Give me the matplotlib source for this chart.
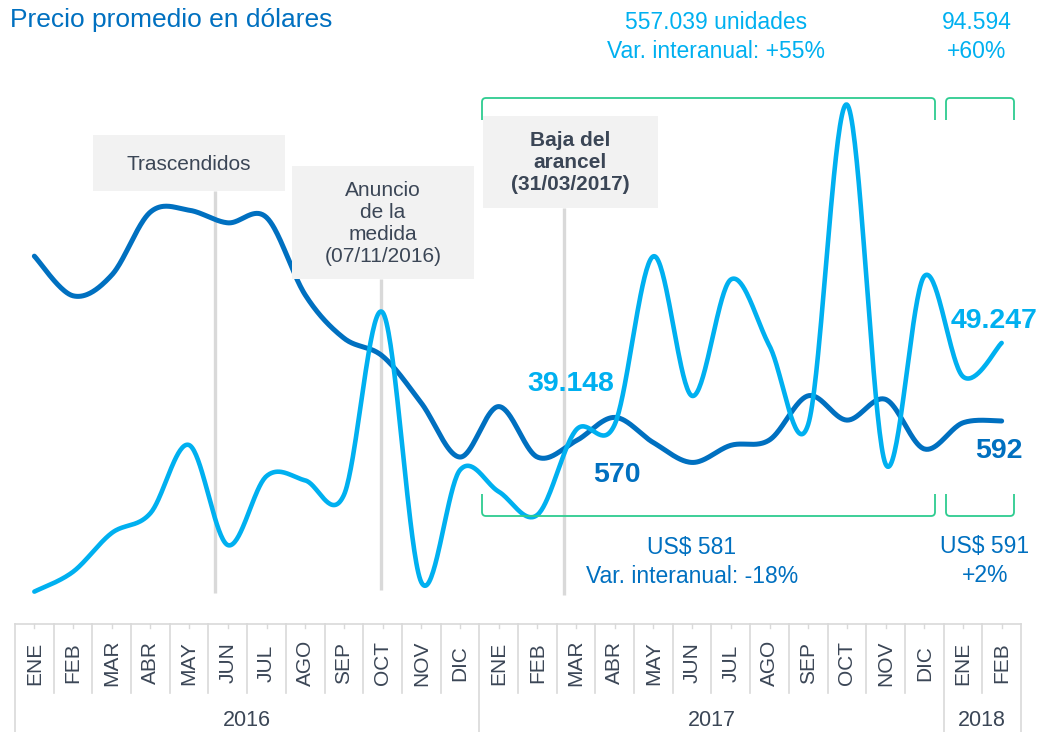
import numpy as np
import matplotlib
matplotlib.use("Agg")
import matplotlib.pyplot as plt
from matplotlib.transforms import blended_transform_factory
from matplotlib.patches import Rectangle
from matplotlib.path import Path
from matplotlib.patches import PathPatch

plt.rcParams['font.family'] = ['Liberation Sans', 'DejaVu Sans']

# ---------------- data ----------------
months = ["ENE", "FEB", "MAR", "ABR", "MAY", "JUN", "JUL", "AGO", "SEP", "OCT", "NOV", "DIC",
          "ENE", "FEB", "MAR", "ABR", "MAY", "JUN", "JUL", "AGO", "SEP", "OCT", "NOV", "DIC",
          "ENE", "FEB"]
years = ["2016", "2017", "2018"]
year_spans = [(0, 11), (12, 23), (24, 25)]

# average price in USD (dark blue)
price = [775, 731, 754, 824, 826, 812, 818, 732, 684, 664, 612, 552,
         608, 552, 570, 596, 568, 546, 565, 571, 620, 593, 616, 561,
         590, 592]
# units (light blue)
units = [20400, 22700, 27200, 29500, 37400, 25800, 33800, 33300, 31600, 52800, 21500, 34500,
         32000, 29300, 39148, 39800, 59300, 43100, 56600, 48900, 39800, 76900, 35200, 56991,
         45347, 49247]

events = ["Trascendidos", "Anuncio\nde la\nmedida\n(07/11/2016)", "Baja del\narancel\n(31/03/2017)"]
event_pos = [4.67, 8.96, 13.69]

C_DARK = "#0070C0"
C_LIGHT = "#00B0F0"
C_GREEN = "#2DCC90"
C_TEXT = "#3B4656"
C_GRID = "#D9D9D9"
C_BOX = "#F2F2F2"

W, H = 1040, 732


def smooth(xv, yv, n=40):
    pts = np.column_stack([np.asarray(xv, float), np.asarray(yv, float)])
    m = len(pts)
    out = []
    for i in range(m - 1):
        p0 = pts[i - 1] if i > 0 else pts[i]
        p1 = pts[i]
        p2 = pts[i + 1]
        p3 = pts[i + 2] if i + 2 < m else pts[i + 1]
        b1 = p1 + (p2 - p0) / 6.0
        b2 = p2 - (p3 - p1) / 6.0
        t = np.linspace(0, 1, n)[:, None]
        seg = ((1 - t) ** 3) * p1 + 3 * ((1 - t) ** 2) * t * b1 + 3 * (1 - t) * t ** 2 * b2 + t ** 3 * p2
        out.append(seg if i == 0 else seg[1:])
    s = np.vstack(out)
    return s[:, 0], s[:, 1]


fig = plt.figure(figsize=(W / 100, H / 100), dpi=100)

# plot area: x pixels 15..1021, y pixels 95..600
ax = fig.add_axes([15 / W, (H - 600) / H, (1021 - 15) / W, (600 - 95) / H])
ax2 = ax.twinx()
ov = fig.add_axes([0, 0, 1, 1])
ov.set_xlim(0, W)
ov.set_ylim(H, 0)
ov.set_axis_off()
ov.patch.set_alpha(0)
ov.set_zorder(5)

x = np.arange(len(months))
ax.set_xlim(-0.5, len(months) - 0.5)
ax.set_ylim(393.3, 953.9)
ax2.set_ylim(19428, 78008)
for a in (ax, ax2):
    a.set_xticks([])
    a.set_yticks([])
    for sp in a.spines.values():
        sp.set_visible(False)
ax.patch.set_alpha(0)

bt = blended_transform_factory(ax.transData, ov.transData)

# event vertical lines
ev_top = [191, 279, 208]
ev_bot = [593, 590, 595]
for xe, t0, t1 in zip(event_pos, ev_top, ev_bot):
    ax.plot([xe, xe], [t0, t1], transform=bt, color=C_GRID, lw=2.4, zorder=1,
            clip_on=False, solid_capstyle='butt')

sx, sy = smooth(x, price)
ax.plot(sx, sy, color=C_DARK, lw=3.6, zorder=3, clip_on=False, solid_capstyle='round')
ux, uy = smooth(x, units)
ax2.plot(ux, uy, color=C_LIGHT, lw=3.3, zorder=3, clip_on=False, solid_capstyle='round')

# ---------------- x-axis table ----------------
tbl_top = 624
for k in range(len(months) + 1):
    xb = k - 0.5
    is_year = k in (0, 12, 24, len(months))
    ov.plot([xb, xb], [tbl_top, H if is_year else 693], transform=bt, color=C_GRID, lw=1.2)
ov.plot([-0.5, len(months) - 0.5], [tbl_top, tbl_top], transform=bt, color=C_GRID, lw=1.2)
for i, m in enumerate(months):
    ov.plot([i, i], [tbl_top, tbl_top + 4], transform=bt, color=C_GRID, lw=1.0)
    ov.text(i, 663, m, transform=bt, rotation=90, ha='center', va='center',
            fontsize=15, color=C_TEXT)
for yl, (a0, a1) in zip(years, year_spans):
    ov.text((a0 + a1) / 2.0, 720, yl, transform=bt, ha='center', va='center',
            fontsize=15.5, color=C_TEXT)

# ---------------- title ----------------
ov.text(10, 27, "Precio promedio en dólares", ha='left', va='baseline', fontsize=19, color=C_DARK)

# ---------------- event boxes ----------------
boxes = [(93, 135, 285, 191), (292, 166, 474, 279), (483, 116, 658, 208)]
bold = [False, False, True]
for (x0, y0, x1, y1), txt, b in zip(boxes, events, bold):
    ov.add_patch(Rectangle((x0, y0), x1 - x0, y1 - y0, facecolor=C_BOX, edgecolor='none', zorder=1))
    ov.text((x0 + x1) / 2, (y0 + y1) / 2 + 1, txt, ha='center', va='center', fontsize=15,
            fontweight='bold' if b else 'normal', color=C_TEXT, linespacing=1.2, zorder=2)


# ---------------- brackets ----------------
def bracket(x0, x1, yh, yend, r=4):
    d = 1 if yend > yh else -1
    verts = [(x0, yend), (x0, yh + d * r), (x0, yh), (x0 + r, yh),
             (x1 - r, yh), (x1, yh), (x1, yh + d * r), (x1, yend)]
    codes = [Path.MOVETO, Path.LINETO, Path.CURVE3, Path.CURVE3,
             Path.LINETO, Path.CURVE3, Path.CURVE3, Path.LINETO]
    ov.add_patch(PathPatch(Path(verts, codes), facecolor='none', edgecolor=C_GREEN, lw=1.3))


bracket(482, 935, 98, 120)
bracket(946, 1014, 98, 120)
bracket(482, 935, 516, 494)
bracket(946, 1014, 516, 494)

# ---------------- summary texts ----------------
ov.text(716, 37, "557.039 unidades\nVar. interanual: +55%", ha='center', va='center', fontsize=16.5,
        color=C_LIGHT, linespacing=1.3)
ov.text(977, 37, "94.594\n+60%", ha='center', va='center', fontsize=16.5,
        color=C_LIGHT, linespacing=1.3)
ov.text(692, 562, "US$ 581\nVar. interanual: -18%", ha='center', va='center', fontsize=16.5,
        color=C_DARK, linespacing=1.3)
ov.text(985, 561, "US$ 591\n+2%", ha='center', va='center', fontsize=16.5,
        color=C_DARK, linespacing=1.3)

# value labels
ov.text(571, 384, "39.148", ha='center', va='center', fontsize=20.5, fontweight='bold', color=C_LIGHT)
ov.text(994, 321, "49.247", ha='center', va='center', fontsize=20.5, fontweight='bold', color=C_LIGHT)
ov.text(617, 475, "570", ha='center', va='center', fontsize=20.5, fontweight='bold', color=C_DARK)
ov.text(999, 451, "592", ha='center', va='center', fontsize=20.5, fontweight='bold', color=C_DARK)

fig.savefig("out.png", dpi=100)
